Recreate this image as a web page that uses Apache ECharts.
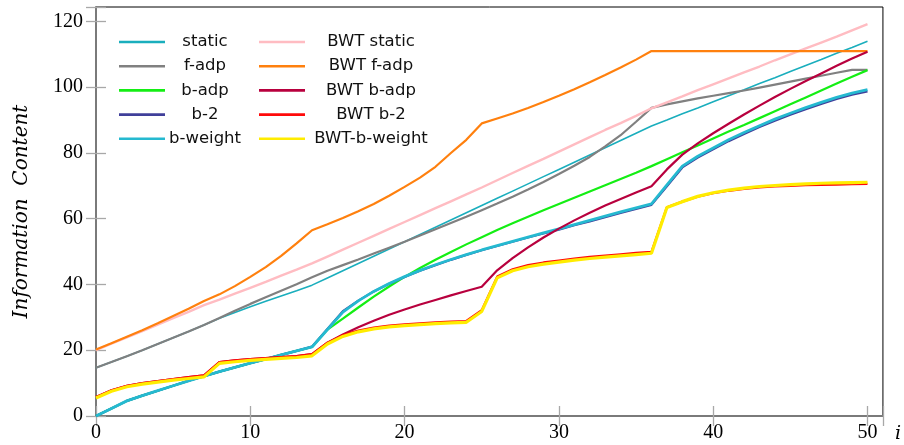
<!DOCTYPE html>
<html>
<head>
<meta charset="utf-8">
<script src="https://cdn.jsdelivr.net/npm/echarts@6/dist/echarts.min.js"></script>
<style>
html,body{margin:0;padding:0;background:#fff;}
#chart{width:904px;height:445px;}
</style>
</head>
<body>
<div id="chart"></div>
<script>
// x positions (i)
var xValues = [0,1,2,3,4,5,6,7,8,9,10,11,12,13,14,15,16,17,18,19,20,21,22,23,24,25,26,27,28,29,30,31,32,33,34,35,36,37,38,39,40,41,42,43,44,45,46,47,48,49,50];

var seriesNames = ['static','f-adp','b-adp','b-2','b-weight','BWT static','BWT f-adp','BWT b-adp','BWT b-2','BWT-b-weight'];

var staticVals = [14.7,16.4,18.2,20,21.9,23.8,25.7,27.7,29.7,31.5,33.2,34.9,36.5,38.1,39.8,42,44.2,46.4,48.6,50.8,53,55.2,57.4,59.6,61.8,64,66.2,68.4,70.6,72.8,75,77.2,79.4,81.6,83.8,86,88.2,90,91.9,93.7,95.6,97.4,99.2,101.1,102.9,104.8,106.6,108.4,110.3,112.1,114];
var fAdp = [14.7,16.4,18.2,20,21.9,23.8,25.7,27.7,29.8,32,34.1,36.1,38.1,40.1,42.2,44.2,45.9,47.6,49.4,51.2,53,54.9,56.8,58.7,60.6,62.6,64.6,66.7,68.9,71.2,73.6,76.1,78.8,82,85.4,89.5,93.7,94.8,95.7,96.6,97.4,98.2,99,99.9,100.8,101.7,102.6,103.5,104.4,105.3,105.3];
var bAdp = [0,2.3,4.6,6.2,7.7,9.2,10.7,12.1,13.5,14.8,16.1,17.3,18.6,19.8,21,26.3,29.6,33,36.3,39.4,42.3,45,47.5,49.9,52.2,54.4,56.6,58.6,60.6,62.6,64.5,66.4,68.3,70.2,72.1,74,76,78.1,80.2,82.3,84.4,86.5,88.5,90.6,92.7,94.8,96.9,99,101.1,103.2,105.2];
var b2 = [0,2.3,4.6,6.2,7.7,9.2,10.7,12.1,13.5,14.8,16.1,17.3,18.6,19.8,21.1,26.5,31.9,35.1,37.9,40.2,42.3,44.2,45.9,47.5,49,50.4,51.7,53,54.3,55.5,56.7,58,59.2,60.5,61.8,63,64.2,69.9,75.6,78.6,81.1,83.6,85.8,87.9,89.8,91.6,93.3,94.9,96.4,97.7,98.7];
var bWeight = [0,2.3,4.6,6.2,7.7,9.2,10.7,12.1,13.5,14.8,16.1,17.3,18.6,19.8,21,26.3,31.6,35,37.9,40.3,42.4,44.3,46,47.6,49.1,50.5,51.8,53.1,54.4,55.7,56.9,58.2,59.5,60.8,62.1,63.3,64.5,70.3,76,79,81.5,84,86.2,88.3,90.3,92.1,93.8,95.4,96.9,98.2,99.3];
var bwtStatic = [20,22,23.9,25.8,27.8,29.8,31.7,33.7,35.4,37.2,39,40.8,42.7,44.5,46.4,48.5,50.6,52.7,54.8,56.9,59,61.1,63.2,65.3,67.4,69.5,71.7,73.9,76.1,78.2,80.4,82.6,84.8,87,89.1,91.3,93.6,95.4,97.2,99.1,100.9,102.7,104.5,106.3,108.2,110,111.8,113.6,115.4,117.3,119.2];
var bwtFAdp = [20.2,22.1,24.1,26.1,28.2,30.4,32.6,35,37,39.5,42.3,45.3,48.7,52.5,56.5,58.3,60.2,62.3,64.5,67,69.7,72.5,75.8,80,84,89,90.5,92,93.7,95.5,97.4,99.4,101.5,103.7,106,108.4,111,111,111,111,111,111,111,111,111,111,111,111,111,111,111];
var bwtBAdp = [5.8,7.8,9.2,10,10.6,11.2,11.8,12.4,16.4,16.9,17.3,17.6,17.9,18.2,18.8,22.3,24.8,27,29,30.8,32.4,33.9,35.3,36.7,38,39.3,44.3,48,51.3,54.3,57,59.5,61.8,64,66,68,69.9,75,79.5,82.9,86,88.9,91.7,94.4,97,99.5,101.9,104.2,106.5,108.7,110.8];
var bwtB2 = [5.8,7.8,9.2,10,10.6,11.2,11.8,12.4,16.4,16.9,17.3,17.6,17.9,18.2,18.8,22.3,24.6,26,26.9,27.5,27.9,28.2,28.5,28.7,28.9,32.2,42.4,44.6,45.9,46.7,47.3,47.9,48.4,48.8,49.2,49.6,49.9,63.5,65.2,66.7,67.8,68.5,69.1,69.5,69.8,70,70.2,70.3,70.4,70.5,70.6];
var bwtBWeight = [5.5,7.5,8.9,9.7,10.3,10.9,11.4,11.9,16,16.5,16.9,17.2,17.5,17.8,18.3,21.9,24.2,25.6,26.5,27.1,27.5,27.8,28.1,28.3,28.5,31.8,42,44.2,45.4,46.2,46.8,47.4,47.9,48.3,48.7,49.1,49.5,63.4,65.2,66.8,67.9,68.7,69.3,69.8,70.1,70.4,70.6,70.8,70.9,71,71.1];

var yTicks = [0,20,40,60,80,100,120];
var xTicks = [0,10,20,30,40,50];

var seriesValues = [staticVals,fAdp,bAdp,b2,bWeight,bwtStatic,bwtFAdp,bwtBAdp,bwtB2,bwtBWeight];
var colors = ['#1aaebd','#808080','#14ee14','#403f9a','#25b9d0','#ffbcc2','#ff800e','#b8003e','#ff0a0a','#ffec00'];
var widths = [1.6,2.2,2.2,2.2,2.8,2.4,2.2,2.2,2.2,3.2];

var series = seriesNames.map(function(n,k){
  return {
    name:n, type:'line', symbol:'none', showSymbol:false, animation:false,
    xAxisIndex:0, yAxisIndex:0,
    lineStyle:{color:colors[k], width:widths[k]},
    itemStyle:{color:colors[k]},
    emphasis:{disabled:true},
    data: xValues.map(function(x,i){return [x, seriesValues[k][i]];})
  };
});

var chart = echarts.init(document.getElementById('chart'), null, {renderer:'canvas'});
var tickStyle = {show:true, inside:true, length:10, lineStyle:{color:'#a8a8a8', width:1.3}};
function yFmt(v){ return yTicks.indexOf(v) >= 0 ? String(v) : ''; }
function xFmt(v){ return xTicks.indexOf(v) >= 0 ? String(v) : ''; }
var legendText = {fontFamily:'DejaVu Sans', fontSize:16.5, color:'#111'};

function makeLegend(names, left, textW){
  return {data:names, orient:'vertical', left:left, top:33.5, padding:0,
    icon:'rect', itemWidth:46, itemHeight:2.6, itemGap:7.2,
    selectedMode:false, formatter:function(n){return '{a|'+n+'}';},
    textStyle:{rich:{a:Object.assign({width:textW, height:14, align:'center', lineHeight:14}, legendText)}}};
}

chart.setOption({
  animation:false,
  backgroundColor:'#fff',
  grid:{left:96, right:21, top:7, bottom:29, show:true, borderColor:'#000', borderWidth:1, backgroundColor:'transparent'},
  legend:[ makeLegend(seriesNames.slice(0,5), 119, 70), makeLegend(seriesNames.slice(5), 259, 122) ],
  xAxis:[
    {type:'value', position:'bottom', min:0, max:51, interval:10,
     name:'i', nameLocation:'end', nameGap:12,
     nameTextStyle:{fontFamily:'DejaVu Serif', fontStyle:'italic', fontSize:19, color:'#000', verticalAlign:'top', padding:[9,0,0,0]},
     axisLine:{show:true, lineStyle:{color:'#7a7a7a', width:2}},
     axisTick:tickStyle, splitLine:{show:false},
     axisLabel:{margin:7, fontFamily:'Liberation Serif', fontSize:20, color:'#000', formatter:xFmt}},
    {type:'value', position:'top', min:0, max:51, interval:10,
     axisLine:{show:false}, axisTick:tickStyle, splitLine:{show:false}, axisLabel:{show:false}}
  ],
  yAxis:[
    {type:'value', position:'left', min:0, max:124.4, interval:20,
     name:'Information  Content', nameLocation:'middle', nameGap:64, nameRotate:90,
     nameTextStyle:{fontFamily:'DejaVu Serif', fontStyle:'italic', fontSize:20, color:'#000'},
     axisLine:{show:true, lineStyle:{color:'#7a7a7a', width:2}},
     axisTick:tickStyle, splitLine:{show:false},
     axisLabel:{margin:13, fontFamily:'Liberation Serif', fontSize:20, color:'#000', formatter:yFmt}},
    {type:'value', position:'right', min:0, max:124.4, interval:20,
     axisLine:{show:false}, axisTick:tickStyle, splitLine:{show:false}, axisLabel:{show:false}}
  ],
  series: series
});
</script>
</body>
</html>
